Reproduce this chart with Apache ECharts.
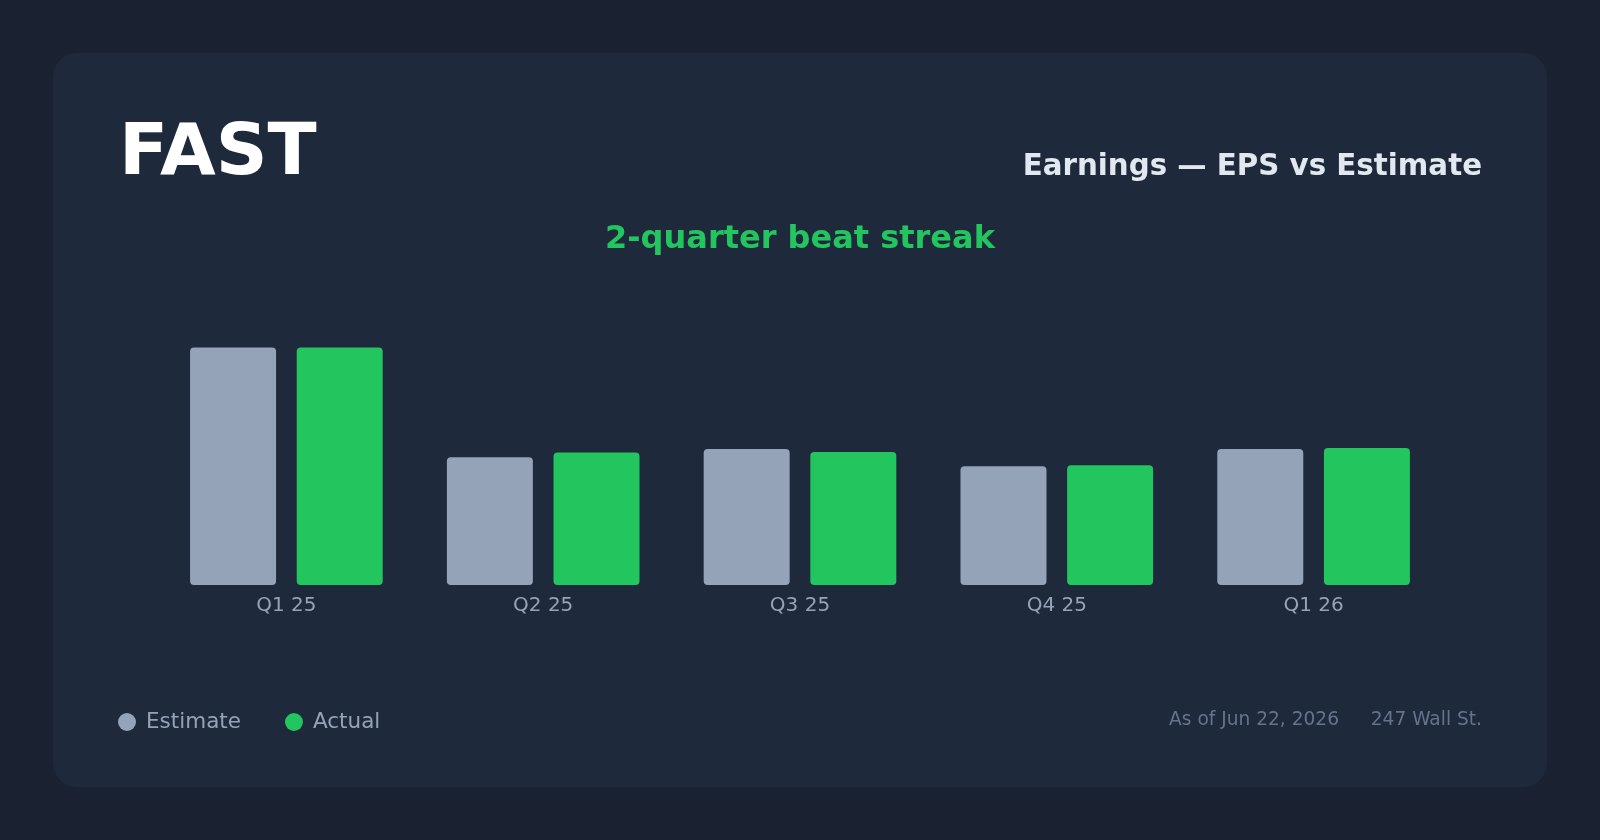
<!DOCTYPE html>
<html>
<head>
<meta charset="utf-8">
<title>FAST Earnings</title>
<script src="https://cdn.jsdelivr.net/npm/echarts@6/dist/echarts.min.js"></script>
<style>
  html, body { margin: 0; padding: 0; background: #1a2232; }
  #chart { width: 1600px; height: 840px; }
</style>
</head>
<body>
<div id="chart"></div>
<script>
    // 季度与 EPS 数据
    const quarters = ['Q1 25', 'Q2 25', 'Q3 25', 'Q4 25', 'Q1 26'];
    const estimateEps = [0.52, 0.28, 0.298, 0.26, 0.298];
    const actualEps = [0.52, 0.29, 0.291, 0.262, 0.30];

    const ticker = 'FAST';
    const headerText = 'Earnings — EPS vs Estimate';
    const streakText = '2-quarter beat streak';
    const asOfText = 'As of Jun 22, 2026';
    const sourceText = '247 Wall St.';

    const font = 'DejaVu Sans';

    const myChart = echarts.init(document.getElementById('chart'));

    const option = {
        backgroundColor: '#1a2232',
        animation: false,
        textStyle: { fontFamily: font },
        graphic: [
            // 卡片背景
            {
                type: 'rect',
                z: -10,
                shape: { x: 53, y: 53, width: 1494, height: 734, r: 24 },
                style: { fill: '#1e293b' }
            },
            {
                type: 'text',
                x: 119, y: 155,
                style: {
                    text: ticker, fill: '#ffffff', font: 'bold 72px "DejaVu Sans"',
                    verticalAlign: 'middle', align: 'left'
                }
            },
            {
                type: 'text',
                x: 1482, y: 167,
                style: {
                    text: headerText, fill: '#e2e8f0', font: 'bold 29.3px "DejaVu Sans"',
                    verticalAlign: 'middle', align: 'right'
                }
            },
            {
                type: 'text',
                x: 800, y: 240,
                style: {
                    text: streakText, fill: '#22c55e', font: 'bold 32px "DejaVu Sans"',
                    verticalAlign: 'middle', align: 'center'
                }
            },
            // 页脚
            {
                type: 'text',
                x: 1339, y: 720,
                style: {
                    text: asOfText, fill: '#64748b', font: '18.6px "DejaVu Sans"',
                    verticalAlign: 'middle', align: 'right'
                }
            },
            {
                type: 'text',
                x: 1482, y: 720,
                style: {
                    text: sourceText, fill: '#64748b', font: '18.6px "DejaVu Sans"',
                    verticalAlign: 'middle', align: 'right'
                }
            }
        ],
        legend: {
            left: 113,
            top: 706,
            icon: 'circle',
            itemWidth: 18,
            itemHeight: 18,
            itemGap: 44,
            textStyle: {
                color: '#94a3b8',
                fontSize: 21.5,
                fontFamily: font,
                padding: [0, 0, 0, 5]
            },
            data: ['Estimate', 'Actual']
        },
        grid: {
            left: 158,
            right: 158,
            top: 311,
            bottom: 255
        },
        xAxis: {
            type: 'category',
            data: quarters,
            axisLine: { show: false },
            axisTick: { show: false },
            axisLabel: {
                color: '#94a3b8',
                fontSize: 20,
                fontFamily: font,
                margin: 11
            }
        },
        yAxis: {
            type: 'value',
            min: 0,
            max: 0.6,
            show: false,
            splitLine: { show: false }
        },
        series: [
            {
                name: 'Estimate',
                type: 'bar',
                data: estimateEps,
                barWidth: 86,
                barGap: '24%',
                itemStyle: { color: '#94a3b8', borderRadius: 4 }
            },
            {
                name: 'Actual',
                type: 'bar',
                data: actualEps,
                barWidth: 86,
                itemStyle: { color: '#22c55e', borderRadius: 4 }
            }
        ]
    };

    myChart.setOption(option);
</script>
</body>
</html>
